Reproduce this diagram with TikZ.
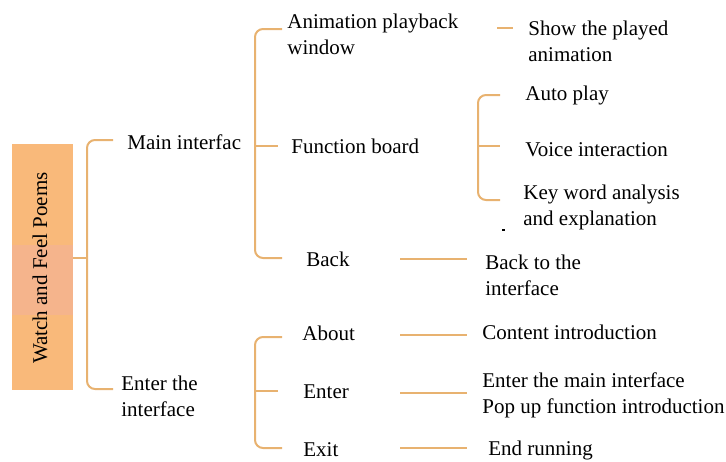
\documentclass[tikz,border=0pt]{standalone}
\usepackage{fontspec}
\setmainfont{LiberationSerif}[Extension=.ttf, UprightFont=*-Regular]
\definecolor{brkcol}{RGB}{232,178,112}
\definecolor{rootcol}{RGB}{249,185,122}
\definecolor{bandcol}{RGB}{245,180,140}
\tikzset{
  brk/.style={draw=brkcol, line width=1pt, rounded corners=4},
  txt/.style={anchor=west, inner sep=0pt, align=left, font=\fontsize{10.5pt}{13pt}\selectfont},
  rootbox/.style={fill=rootcol, minimum width=30.5pt, minimum height=123pt, inner sep=0pt,
    path picture={\fill[bandcol] (path picture bounding box.west) ++(0,-22) rectangle ++(61,70);}}
}
\begin{document}
\begin{tikzpicture}[x=0.5pt,y=-0.5pt]
\useasboundingbox (0,0) rectangle (726,461);
\node[rootbox] (root) at (42.5,267) {};
\node[rotate=90, font=\fontsize{10.5pt}{13pt}\selectfont] (title) at (40,268) {Watch and Feel Poems};
\node[txt] (main) at (127,142) {Main interfac};
\node[txt] (enter) at (121,396) {Enter the\\interface};
\node[txt] (anim) at (287,34) {Animation playback\\window};
\node[txt] (func) at (291,146) {Function board};
\node[txt] (back) at (306,259) {Back};
\node[txt] (show) at (528,41) {Show the played\\animation};
\node[txt] (auto) at (525,95) {Auto play};
\node[txt] (voice) at (525,150) {Voice interaction};
\node[txt] (key) at (523,207) {Key word analysis\\and explanation};
\node[txt] (backto) at (485,275) {Back to the\\interface};
\node[txt] (about) at (302,333) {About};
\node[txt] (entr) at (303,392) {Enter};
\node[txt] (exit) at (303,450) {Exit};
\node[txt] (content) at (482,332) {Content introduction};
\node[txt] (entermain) at (482,395) {Enter the main interface\\Pop up function introduction};
\node[txt] (endrun) at (488,450) {End running};
\coordinate (k1) at (87,258);
\coordinate (k1t) at (113,140);
\coordinate (k1b) at (113,389);
\coordinate (k2) at (255,146);
\coordinate (k2t) at (282,29);
\coordinate (k2b) at (282,258);
\coordinate (k3) at (478,146);
\coordinate (k3t) at (500,95);
\coordinate (k3b) at (500,200);
\coordinate (k4) at (255,391);
\coordinate (k4t) at (282,337);
\coordinate (k4b) at (282,448);
\coordinate (colL) at (400,0);
\coordinate (colR) at (467,0);
\draw[brk] (root.east |- k1) -- (k1);
\draw[brk] (k1t) -| (k1) |- (k1b);
\draw[brk] (k2t) -| (k2) |- (k2b);
\draw[brk] (k2) -- ++(23,0);
\draw[brk] (k3t) -| (k3) |- (k3b);
\draw[brk] (k3) -- ++(22,0);
\draw[brk] (k4t) -| (k4) |- (k4b);
\draw[brk] (k4) -- ++(23,0);
\draw[brk] (497,28) -- (513,28);
\draw[brk] (colL |- back) -- (colR |- back);
\draw[brk] (colL |- 0,335) -- (colR |- 0,335);
\draw[brk] (colL |- 0,393) -- (colR |- 0,393);
\draw[brk] (colL |- 0,448) -- (colR |- 0,448);
\draw[line width=1pt] (502,230) -- (505,230);
\end{tikzpicture}
\end{document}
